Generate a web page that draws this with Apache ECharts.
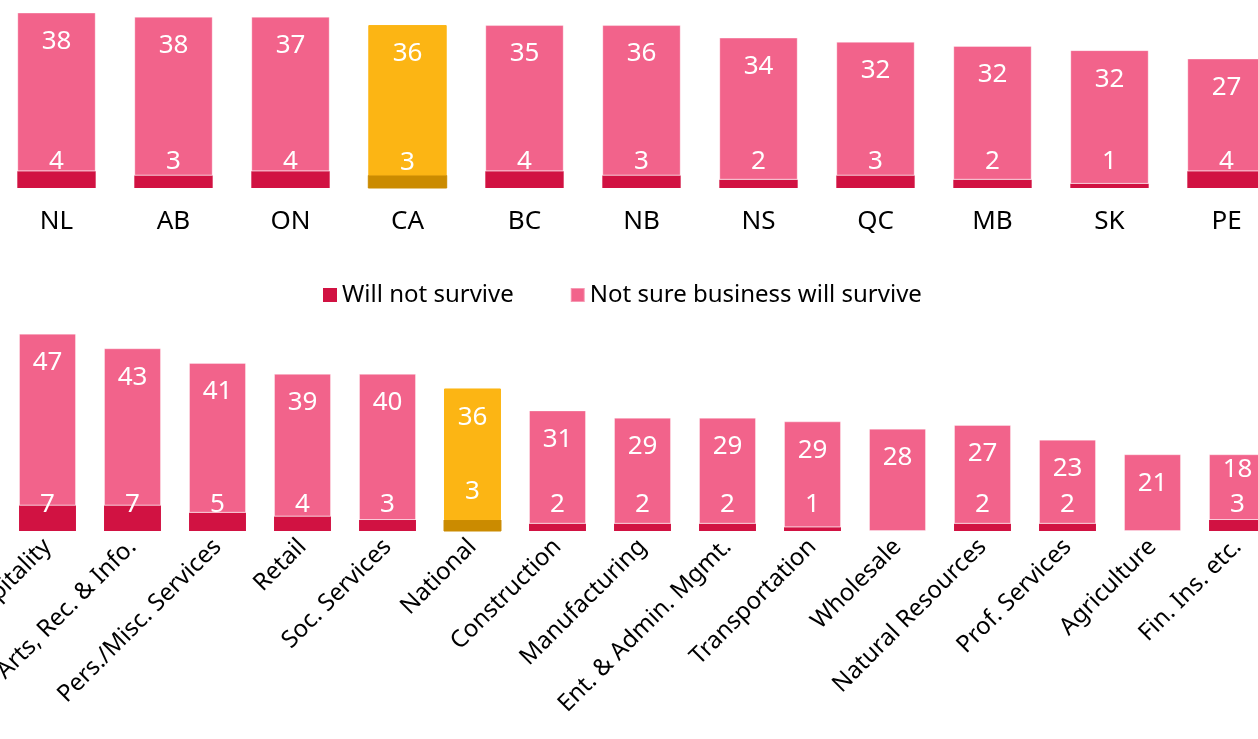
<!DOCTYPE html>
<html>
<head>
<meta charset="utf-8">
<style>
  html, body { margin: 0; padding: 0; background: #fff; }
  #chart { width: 1258px; height: 739px; }
</style>
<script src="https://cdn.jsdelivr.net/npm/echarts@6/dist/echarts.min.js"></script>
</head>
<body>
<div id="chart"></div>
<script>
// Provinces (top panel)
const provinces = ['NL', 'AB', 'ON', 'CA', 'BC', 'NB', 'NS', 'QC', 'MB', 'SK', 'PE'];
const provWillNot = [4, 3, 4, 3, 4, 3, 2, 3, 2, 1, 4];
const provNotSure = [38, 38, 37, 36, 35, 36, 34, 32, 32, 32, 27];

// Sectors (bottom panel)
const sectors = ['Hospitality', 'Arts, Rec. & Info.', 'Pers./Misc. Services', 'Retail', 'Soc. Services',
  'National', 'Construction', 'Manufacturing', 'Ent. & Admin. Mgmt.', 'Transportation', 'Wholesale',
  'Natural Resources', 'Prof. Services', 'Agriculture', 'Fin. Ins. etc.'];
const secWillNot = [7, 7, 5, 4, 3, 3, 2, 2, 2, 1, 0, 2, 2, 0, 3];
const secNotSure = [47, 43, 41, 39, 40, 36, 31, 29, 29, 29, 28, 27, 23, 21, 18];

const DARK = '#D11242';
const PINK = '#F2638B';
const GOLD = '#FCB514';
const GOLD_DARK = '#CB8B00';
const FONT = 'Noto Sans';

// Bars for the overall (Canada / National) total get the gold highlight
function buildItems(values, cats, key, hi, labelShift) {
  return values.map((v, i) => {
    const item = { value: v };
    if (cats[i] === key) item.itemStyle = { color: hi, borderColor: hi };
    if (labelShift && labelShift[i]) item.label = { offset: [0, labelShift[i]] };
    return item;
  });
}

const hideZero = p => (p.value === 0 ? '' : String(p.value));

const labelBase = { show: true, color: '#fff', fontSize: 26, fontFamily: FONT, formatter: hideZero };

function darkSeries(data, xi) {
  return {
    name: 'Will not survive', type: 'bar', stack: 's' + xi, xAxisIndex: xi, yAxisIndex: xi,
    barWidth: '67%', data: data,
    itemStyle: { color: DARK },
    label: Object.assign({}, labelBase, { position: 'insideBottom', distance: 13 })
  };
}
function pinkSeries(data, xi) {
  return {
    name: 'Not sure business will survive', type: 'bar', stack: 's' + xi, xAxisIndex: xi, yAxisIndex: xi,
    barWidth: '67%', data: data,
    itemStyle: { color: PINK, borderColor: 'rgba(255,255,255,0.35)', borderWidth: 1 },
    label: Object.assign({}, labelBase, { position: 'insideTop', distance: 16 })
  };
}

const chart = echarts.init(document.getElementById('chart'));
chart.setOption({
  animation: false,
  legend: {
    top: 283, left: 323,
    itemWidth: 14, itemHeight: 14, itemGap: 56,
    icon: 'rect',
    padding: 0,
    textStyle: { fontSize: 24, fontFamily: FONT, color: '#000' },
    data: ['Will not survive', 'Not sure business will survive']
  },
  grid: [
    { left: -2, top: 0, width: 1287, height: 188, outerBoundsMode: 'none', containLabel: false },
    { left: 5, top: 330, width: 1275, height: 201, outerBoundsMode: 'none', containLabel: false }
  ],
  xAxis: [
    {
      type: 'category', gridIndex: 0, data: provinces,
      axisLine: { show: false }, axisTick: { show: false },
      axisLabel: { fontSize: 26, fontFamily: FONT, color: '#000', margin: 21 }
    },
    {
      type: 'category', gridIndex: 1, data: sectors,
      axisLine: { show: false }, axisTick: { show: false },
      axisLabel: { fontSize: 24, fontFamily: FONT, color: '#000', rotate: 45, margin: 12, interval: 0 }
    }
  ],
  yAxis: [
    { type: 'value', gridIndex: 0, min: 0, max: 45, show: false },
    { type: 'value', gridIndex: 1, min: 0, max: 55, show: false }
  ],
  series: [
    darkSeries(buildItems(provWillNot, provinces, 'CA', GOLD_DARK), 0),
    pinkSeries(buildItems(provNotSure, provinces, 'CA', GOLD), 0),
    darkSeries(buildItems(secWillNot, sectors, 'National', GOLD_DARK, { 5: -14 }), 1),
    pinkSeries(buildItems(secNotSure, sectors, 'National', GOLD, { 14: -14 }), 1)
  ]
});
</script>
</body>
</html>
